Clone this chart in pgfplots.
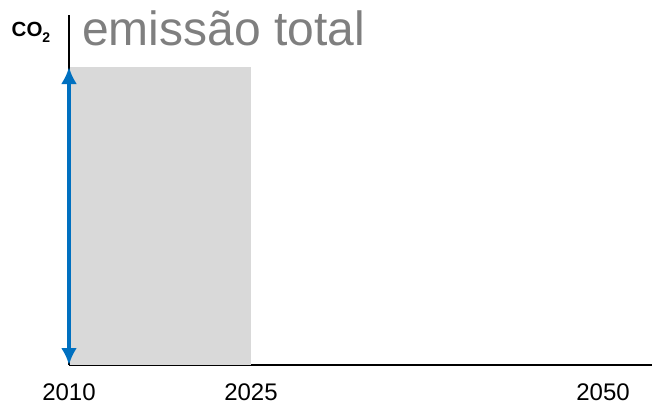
\documentclass[border=0pt]{standalone}
\usepackage{fontspec}
\setmainfont{Liberation Sans}
\newfontfamily\bsans{Liberation Sans Bold}
\usepackage{pgfplots}
\pgfplotsset{compat=1.18}
\usetikzlibrary{arrows.meta}
\definecolor{lgray}{HTML}{D9D9D9}
\definecolor{tgray}{HTML}{7F7F7F}
\definecolor{arrblue}{HTML}{0070C0}
\begin{document}
\begin{tikzpicture}
\path[use as bounding box] (-69bp,-41bp) rectangle (583bp,365bp);
\begin{axis}[
  at={(0,0)}, anchor=south west,
  scale only axis, width=583bp, height=350bp,
  xmin=0, xmax=583, ymin=0, ymax=350,
  axis x line*=bottom, axis y line*=left,
  axis line style={black, line width=1.3bp},
  xtick={0,182,534}, xticklabels={2010,2025,2050},
  ytick=\empty,
  major tick length=0pt,
  xticklabel style={font=\fontsize{24bp}{28bp}\selectfont, inner sep=0pt, anchor=north, yshift=-19bp},
  clip=false,
]
\addplot[draw=none, fill=lgray] coordinates {(1,0) (182,0) (182,298) (1,298)} -- cycle;
\addplot[arrblue, line width=4.5bp, {Latex[length=17bp,width=16bp]}-{Latex[length=17bp,width=16bp]}] coordinates {(0,0) (0,298)};
\end{axis}
\node[anchor=base west, inner sep=0pt, text=tgray, font=\fontsize{48bp}{52bp}\selectfont] at (13bp,319bp) {emissão total};
\node[anchor=base west, inner sep=0pt] at (-57.5bp,328.3bp) {\bsans\fontsize{20.5bp}{24bp}\selectfont CO\raisebox{-0.28em}{\fontsize{14bp}{16bp}\selectfont 2}};
\end{tikzpicture}
\end{document}
